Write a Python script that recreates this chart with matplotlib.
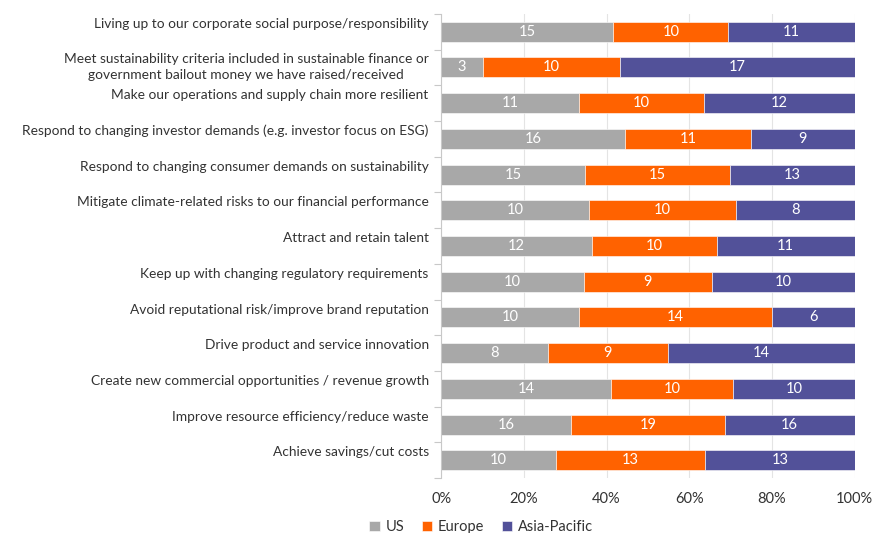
import numpy as np
import matplotlib.pyplot as plt
from matplotlib.ticker import FixedLocator, PercentFormatter

plt.rcParams['font.family'] = ['Lato', 'DejaVu Sans']

categories = [
    "Living up to our corporate social purpose/responsibility",
    "Meet sustainability criteria included in sustainable finance or\ngovernment bailout money we have raised/received",
    "Make our operations and supply chain more resilient",
    "Respond to changing investor demands (e.g. investor focus on ESG)",
    "Respond to changing consumer demands on sustainability",
    "Mitigate climate-related risks to our financial performance",
    "Attract and retain talent",
    "Keep up with changing regulatory requirements",
    "Avoid reputational risk/improve brand reputation",
    "Drive product and service innovation",
    "Create new commercial opportunities / revenue growth",
    "Improve resource efficiency/reduce waste",
    "Achieve savings/cut costs",
]
us = [15, 3, 11, 16, 15, 10, 12, 10, 10, 8, 14, 16, 10]
europe = [10, 10, 10, 11, 15, 10, 10, 9, 14, 9, 10, 19, 13]
asia = [11, 17, 12, 9, 13, 8, 11, 10, 6, 14, 10, 16, 13]

series = [("US", us, "#a8a8a8"),
          ("Europe", europe, "#ff6200"),
          ("Asia-Pacific", asia, "#525199")]

totals = np.array(us) + np.array(europe) + np.array(asia)
y = np.arange(len(categories))

fig, ax = plt.subplots(figsize=(8.72, 5.33), dpi=100)
fig.subplots_adjust(left=0.506, right=0.98, top=0.974, bottom=0.103)

left = np.zeros(len(categories))
for name, vals, color in series:
    share = np.array(vals) / totals * 100
    bars = ax.barh(y, share, left=left, height=0.56, color=color,
                   edgecolor="white", linewidth=0.4, label=name, zorder=2)
    for rect, v in zip(bars, vals):
        ax.text(rect.get_x() + rect.get_width() / 2,
                rect.get_y() + rect.get_height() / 2, str(v),
                ha="center", va="center", color="white", fontsize=10.5, zorder=3)
    left += share

ax.set_xlim(0, 100)
ax.set_ylim(len(categories) - 0.5, -0.5)
ax.set_xticks(np.arange(0, 101, 20))
ax.xaxis.set_major_formatter(PercentFormatter(decimals=0))

# category labels sit a little above the bar, except the two-line one
ax.set_yticks([])
ax.yaxis.set_minor_locator(FixedLocator(np.arange(-0.5, len(categories), 1)))
ax.tick_params(axis="y", which="minor", length=5, color="#c8c8c8", width=0.8)
for yi, label in zip(y, categories):
    dy = 0 if "\n" in label else -0.22
    ax.annotate(label, xy=(0, yi + dy), xycoords=("axes fraction", "data"),
                xytext=(-9, 0), textcoords="offset points",
                ha="right", va="center", multialignment="center",
                fontsize=9.9, color="#333333", linespacing=1.4)

ax.tick_params(axis="x", length=0, pad=10, labelsize=10.5, labelcolor="#333333")

ax.grid(axis="x", color="#e4e4e4", linewidth=0.8, zorder=0)
for side in ["top", "right", "bottom"]:
    ax.spines[side].set_visible(False)
ax.spines["left"].set_color("#c8c8c8")
ax.spines["left"].set_linewidth(0.8)

fig.legend(*ax.get_legend_handles_labels(), loc="lower center",
           bbox_to_anchor=(481 / 872, -0.026), ncol=3, frameon=False,
           fontsize=10.5, handlelength=0.7, handleheight=0.7, handletextpad=0.4,
           columnspacing=1.2, labelcolor="#333333")

fig.savefig("out.png", dpi=100)
